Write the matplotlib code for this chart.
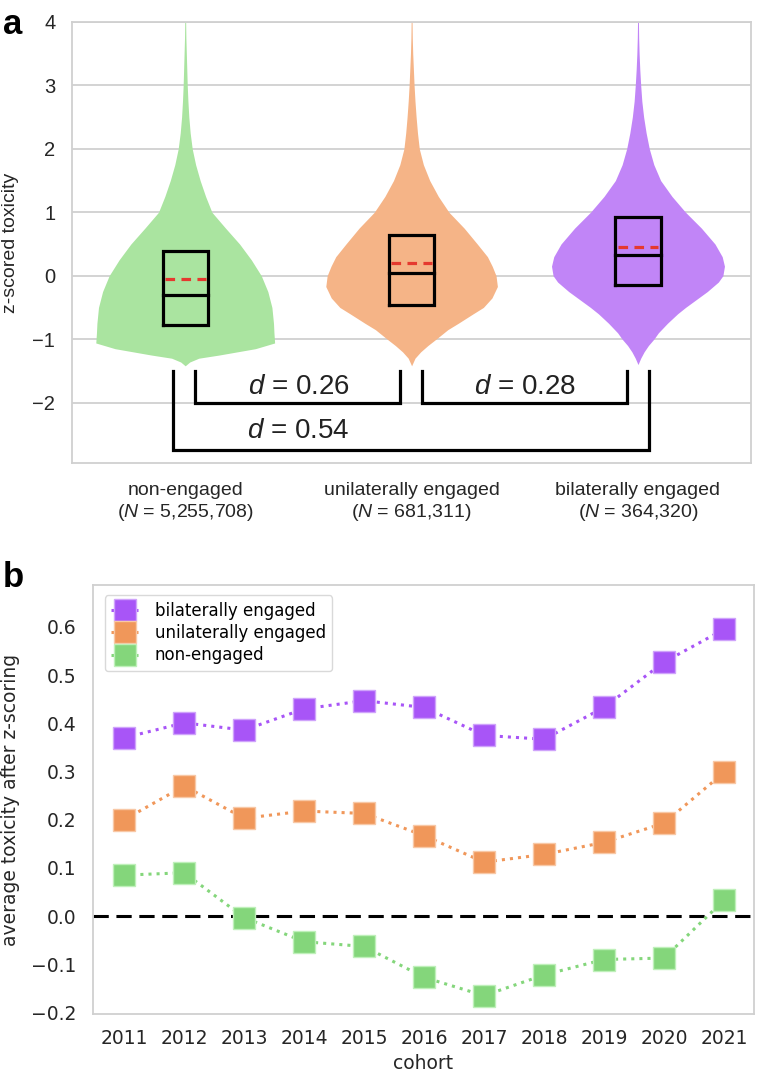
import matplotlib
matplotlib.use("Agg")
import matplotlib.pyplot as plt
import numpy as np

plt.rcParams['mathtext.fontset'] = 'custom'
plt.rcParams['mathtext.rm'] = 'Liberation Sans'
plt.rcParams['mathtext.it'] = 'Liberation Sans:italic'

# ---------------- Panel a data ----------------
groups = ["non-engaged", "unilaterally engaged", "bilaterally engaged"]
group_n = ["5,255,708", "681,311", "364,320"]
violin_colors = ["#aae4a0", "#f5b487", "#c185f7"]

# violin outlines: y-values and half-widths (in category units)
green_y  = [4.0, 3.75, 3.5, 3.25, 3.0, 2.75, 2.5, 2.25, 2.0, 1.75, 1.5, 1.25, 1.0, 0.75, 0.5, 0.25,
            0.0, -0.25, -0.5, -0.75, -0.9, -1.06, -1.15, -1.25, -1.3, -1.36, -1.42]
green_hw = [0.002, 0.003, 0.005, 0.007, 0.009, 0.012, 0.016, 0.022, 0.031, 0.046, 0.066, 0.09, 0.118,
            0.178, 0.24, 0.292, 0.336, 0.365, 0.383, 0.39, 0.392, 0.395, 0.31, 0.15, 0.06, 0.02, 0.0]
orange_y  = [4.0, 3.75, 3.5, 3.25, 3.0, 2.75, 2.5, 2.25, 2.0, 1.75, 1.5, 1.25, 1.0, 0.75, 0.5, 0.3,
             0.15, 0.0, -0.17, -0.35, -0.5, -0.6, -0.75, -0.85, -1.0, -1.1, -1.2, -1.3, -1.42]
orange_hw = [0.002, 0.003, 0.005, 0.008, 0.011, 0.015, 0.02, 0.026, 0.034, 0.052, 0.08, 0.118, 0.165,
             0.232, 0.29, 0.335, 0.356, 0.373, 0.379, 0.355, 0.317, 0.272, 0.206, 0.16, 0.108, 0.072,
             0.04, 0.015, 0.0]
purple_y  = [4.0, 3.75, 3.5, 3.25, 3.0, 2.75, 2.5, 2.25, 2.0, 1.75, 1.5, 1.25, 1.0, 0.75, 0.5, 0.3,
             0.15, 0.0, -0.1, -0.25, -0.375, -0.5, -0.6, -0.75, -0.9, -1.0, -1.1, -1.2, -1.3, -1.4]
purple_hw = [0.002, 0.003, 0.005, 0.008, 0.012, 0.017, 0.025, 0.036, 0.05, 0.07, 0.1, 0.15, 0.21,
             0.28, 0.34, 0.372, 0.382, 0.375, 0.355, 0.306, 0.258, 0.21, 0.175, 0.13, 0.09, 0.07,
             0.046, 0.027, 0.012, 0.0]

box_q1 = [-0.78, -0.457, -0.152]
box_median = [-0.30, 0.04, 0.32]
box_q3 = [0.383, 0.646, 0.918]
box_mean = [-0.05, 0.20, 0.45]

# effect-size brackets
bracket_x0 = [0.045, 1.046, -0.052]
bracket_x1 = [0.948, 1.953, 2.05]
bracket_top = [-1.5, -1.5, -1.5]
bracket_bottom = [-2.0, -2.0, -2.75]
bracket_labels = ["0.26", "0.28", "0.54"]
bracket_text_x = [0.5, 1.5, 0.5]
bracket_text_y = [-1.76, -1.76, -2.45]

# ---------------- Panel b data ----------------
cohorts = ["2011", "2012", "2013", "2014", "2015", "2016", "2017", "2018", "2019", "2020", "2021"]
bilateral = [0.370, 0.401, 0.386, 0.430, 0.447, 0.433, 0.375, 0.367, 0.433, 0.527, 0.595]
unilateral = [0.200, 0.270, 0.203, 0.218, 0.213, 0.167, 0.112, 0.128, 0.153, 0.193, 0.298]
nonengaged = [0.085, 0.090, -0.003, -0.053, -0.063, -0.127, -0.165, -0.122, -0.090, -0.087, 0.033]
series_labels = ["bilaterally engaged", "unilaterally engaged", "non-engaged"]
series_colors = ["#a855f7", "#f0975a", "#84d67b"]
series_edge = ["#cfa3fb", "#f8c8a6", "#bff0ba"]

fig = plt.figure(figsize=(7.58, 10.74), dpi=100)

# ================= Panel a =================
axa = fig.add_axes([0.095, 0.569, 0.896, 0.4106])
grid_c = "#d0d0d0"
axa.set_axisbelow(True)
axa.yaxis.grid(True, color=grid_c, linewidth=1.3)
for s in axa.spines.values():
    s.set_color(grid_c)
    s.set_linewidth(1.3)

profiles = [(green_y, green_hw), (orange_y, orange_hw), (purple_y, purple_hw)]
for i, (yy, hw) in enumerate(profiles):
    yy = np.array(yy)
    hw = np.array(hw)
    axa.fill_betweenx(yy, i - hw, i + hw, color=violin_colors[i], linewidth=0, zorder=2)
    bw = 0.1
    axa.plot([i - bw, i + bw, i + bw, i - bw, i - bw],
             [box_q1[i], box_q1[i], box_q3[i], box_q3[i], box_q1[i]],
             color="black", linewidth=2.3, zorder=3, solid_joinstyle="miter")
    axa.plot([i - bw, i + bw], [box_median[i], box_median[i]], color="black", linewidth=2.3, zorder=3)
    axa.plot([i - bw + 0.01, i + bw - 0.01], [box_mean[i], box_mean[i]], color="#e5392f",
             linewidth=2.3, linestyle=(0, (3, 2)), zorder=4)

for j in range(3):
    axa.plot([bracket_x0[j], bracket_x0[j], bracket_x1[j], bracket_x1[j]],
             [bracket_top[j], bracket_bottom[j], bracket_bottom[j], bracket_top[j]],
             color="black", linewidth=2.3, zorder=3, solid_joinstyle="miter")
    axa.text(bracket_text_x[j], bracket_text_y[j], r"$\mathit{d}$ = " + bracket_labels[j],
             ha="center", va="center", fontsize=20, family="Liberation Sans", color="#222222")

axa.set_xlim(-0.5, 2.5)
axa.set_ylim(-2.95, 4)
axa.set_yticks([-2, -1, 0, 1, 2, 3, 4])
axa.set_yticklabels(["\u22122", "\u22121", "0", "1", "2", "3", "4"])
axa.set_xticks([0, 1, 2])
axa.set_xticklabels([f"{g}\n($\\mathit{{N}}$ = {n})" for g, n in zip(groups, group_n)])
axa.tick_params(axis="y", length=0, pad=12, labelsize=14.5, labelcolor="#262626")
axa.tick_params(axis="x", length=0, pad=14, labelsize=14, labelcolor="#262626")
for lbl in axa.get_xticklabels() + axa.get_yticklabels():
    lbl.set_family("Liberation Sans")
axa.set_ylabel("z-scored toxicity", fontsize=14, family="Liberation Sans", color="#262626", labelpad=10)

fig.text(0.004, 0.993, "a", fontsize=25, fontweight="bold", family="Liberation Sans", va="top", ha="left")

# ================= Panel b =================
axb = fig.add_axes([0.1227, 0.0559, 0.872, 0.3994])
for s in axb.spines.values():
    s.set_color(grid_c)
    s.set_linewidth(1.3)

x = np.arange(len(cohorts))
axb.axhline(0, color="black", linestyle=(0, (5, 2.5)), linewidth=2.2, zorder=1)
for vals, lab, c, ec in zip([bilateral, unilateral, nonengaged], series_labels, series_colors, series_edge):
    axb.plot(x, vals, linestyle=":", linewidth=2.2, color=c, marker="s", markersize=16,
             markerfacecolor=c, markeredgecolor=ec, markeredgewidth=1.0, label=lab, zorder=3)

axb.set_xlim(-0.52, 10.5)
axb.set_ylim(-0.203, 0.687)
axb.set_xticks(x)
axb.set_xticklabels(cohorts)
axb.set_yticks([-0.2, -0.1, 0.0, 0.1, 0.2, 0.3, 0.4, 0.5, 0.6])
axb.set_yticklabels(["\u22120.2", "\u22120.1", "0.0", "0.1", "0.2", "0.3", "0.4", "0.5", "0.6"])
axb.tick_params(axis="both", length=0, labelsize=13.5, labelcolor="#262626")
axb.tick_params(axis="y", pad=12)
axb.tick_params(axis="x", pad=11)
axb.set_xlabel("cohort", fontsize=13.5, color="#262626", labelpad=4)
axb.set_ylabel("average toxicity after z-scoring", fontsize=13.5, color="#262626", labelpad=8)
leg = axb.legend(loc="upper left", fontsize=12, frameon=True, handlelength=1.6,
                 borderpad=0.4, labelspacing=0.25, handletextpad=1.0,
                 bbox_to_anchor=(0.005, 0.995))
leg.get_frame().set_edgecolor("#d0d0d0")

fig.text(0.004, 0.478, "b", fontsize=25, fontweight="bold", family="Liberation Sans", va="top", ha="left")

fig.savefig("out.png", dpi=100)
